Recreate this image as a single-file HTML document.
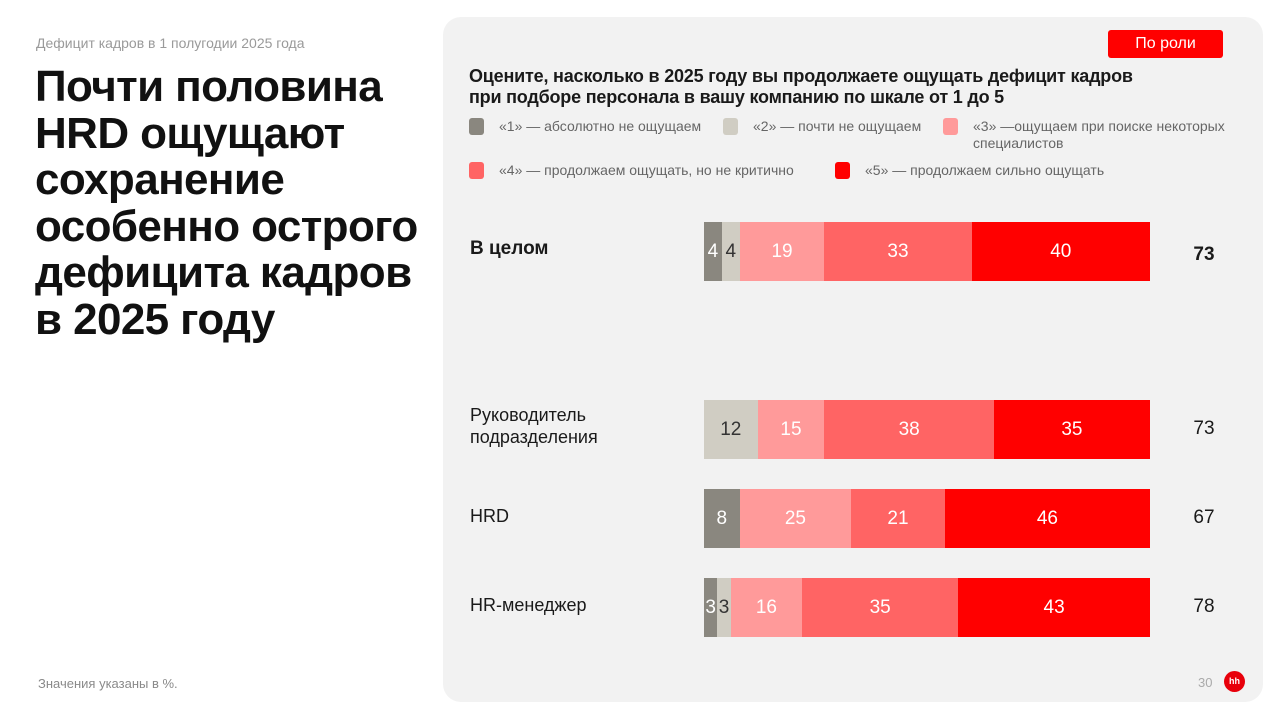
<!DOCTYPE html>
<html><head><meta charset="utf-8">
<style>
*{margin:0;padding:0;box-sizing:border-box}
body{width:1280px;height:720px;background:#fff;font-family:"Liberation Sans",sans-serif;position:relative;overflow:hidden;color:#1a1a1a}
.abs{position:absolute}
#card{left:443px;top:17px;width:820px;height:685px;background:#f2f2f2;border-radius:18px}
.leg{font-size:14px;color:#666;position:absolute;line-height:17px}
.sw{position:absolute;width:15px;height:17px;border-radius:3px}
.rowlab{position:absolute;font-size:18px;color:#1a1a1a;line-height:22px}
.tot{position:absolute;font-size:19px;color:#1a1a1a;width:40px;text-align:center}
.seg{position:absolute;display:flex;align-items:center;justify-content:center;font-size:19px;color:#fff;overflow:visible;white-space:nowrap}
</style></head><body>
<div class="abs" style="left:36px;top:35px;font-size:14px;color:#9a9a9a">Дефицит кадров в 1 полугодии 2025 года</div>
<div class="abs" style="left:35px;top:64px;font-size:44px;font-weight:bold;line-height:46.5px;letter-spacing:-0.6px;width:440px;white-space:nowrap;color:#111">Почти половина<br>HRD ощущают<br>сохранение<br>особенно острого<br>дефицита кадров<br>в 2025 году</div>
<div class="abs" style="left:38px;top:676px;font-size:13px;color:#8a8a8a">Значения указаны в %.</div>
<div id="card" class="abs"></div>
<div class="abs" style="left:1108px;top:30px;width:115px;height:28px;background:#ff0000;border-radius:3px;color:#fff;font-size:16px;text-align:center;line-height:28px">По роли</div>
<div class="abs" style="left:469px;top:66px;font-size:18px;font-weight:bold;line-height:21px;letter-spacing:-0.2px">Оцените, насколько в 2025 году вы продолжаете ощущать дефицит кадров<br>при подборе персонала в вашу компанию по шкале от 1 до 5</div>
<div id="legend"></div>
<div id="chart"></div>
<div class="abs" style="left:1198px;top:675px;font-size:13px;color:#aaa">30</div>
<div class="abs" style="left:1224px;top:671px;width:21px;height:21px;border-radius:50%;background:#e8000b;color:#fff;font-size:9px;font-weight:bold;text-align:center;line-height:21px">hh</div>
<script>
const categories=["В целом","Руководитель<br>подразделения","HRD","HR-менеджер"];
const s1=[4,0,8,3];
const s2=[4,12,0,3];
const s3=[19,15,25,16];
const s4=[33,38,21,35];
const s5=[40,35,46,43];
const totals=[73,73,67,78];
const legendLabels=["«1» — абсолютно не ощущаем","«2» — почти не ощущаем","«3» —ощущаем при поиске некоторых<br>специалистов","«4» — продолжаем ощущать, но не критично","«5» — продолжаем сильно ощущать"];
const colors=["#8a877f","#d0cdc3","#ff9a9a","#ff6464","#ff0000"];
const textColors=["#fff","#333","#fff","#fff","#fff"];
const series=[s1,s2,s3,s4,s5];
const x0=704, scale=4.46;
const rowTops=[222,400,489,578], barH=59;
const xs=v=>v*scale;
const leg=document.getElementById('legend');
const legPos=[[469,118],[723,118],[943,118],[469,162],[835,162]];
legendLabels.forEach((l,i)=>{
  const sw=document.createElement('div');sw.className='sw';
  
  
  sw.style.left=legPos[i][0]+'px';sw.style.top=legPos[i][1]+'px';sw.style.background=colors[i];
  leg.appendChild(sw);
  const t=document.createElement('div');t.className='leg';
  
  
  t.style.left=(legPos[i][0]+30)+'px';t.style.top=legPos[i][1]+'px';t.innerHTML=l;
  leg.appendChild(t);
});
const ch=document.getElementById('chart');
categories.forEach((c,r)=>{
  const lab=document.createElement('div');lab.className='rowlab';
  
  
  lab.style.left='470px';lab.innerHTML=c;
  const multi=c.includes('<br>');
  lab.style.top=(rowTops[r]+(multi?4:16))+'px';
  if(r==0){lab.style.fontWeight='bold';lab.style.fontSize='19px';lab.style.top=(rowTops[r]+16)+'px';}
  ch.appendChild(lab);
  let acc=0;
  series.forEach((s,i)=>{
    const v=s[r]; if(!v) return;
    const d=document.createElement('div');d.className='seg';
    
    
    d.style.left=(x0+xs(acc))+'px';d.style.top=rowTops[r]+'px';
    d.style.width=xs(v)+'px';d.style.height=barH+'px';
    d.style.background=colors[i];d.style.color=textColors[i];
    d.textContent=v;acc+=v;ch.appendChild(d);
  });
  const t=document.createElement('div');t.className='tot';
  
  
  t.style.left='1184px';t.style.top=(rowTops[r]+(r==0?22:18))+'px';t.textContent=totals[r];
  if(r==0)t.style.fontWeight='bold';
  ch.appendChild(t);
});
</script>
</body></html>
